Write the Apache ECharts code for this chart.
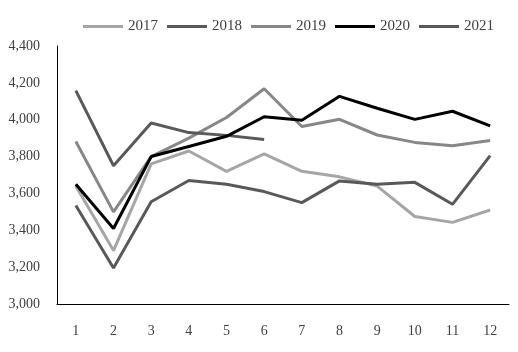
<!DOCTYPE html>
<html>
<head>
<meta charset="utf-8">
<script src="https://cdn.jsdelivr.net/npm/echarts@6/dist/echarts.min.js"></script>
<style>
html,body{margin:0;padding:0;background:#fff}
#main{width:518px;height:352px}
</style>
</head>
<body>
<div id="main"></div>
<script>
// months on the x axis
var months = ['1','2','3','4','5','6','7','8','9','10','11','12'];
var names = ['2017','2018','2019','2020','2021'];
var colors = ['#a6a6a6','#595959','#878787','#000000','#595959'];

var d2017 = [3640,3290,3760,3830,3720,3815,3720,3690,3640,3475,3443,3510];
var d2018 = [3535,3195,3555,3670,3650,3610,3550,3668,3650,3660,3541,3805];
var d2019 = [3882,3500,3800,3900,4012,4168,3963,4002,3917,3877,3859,3887];
var d2020 = [3650,3410,3800,3855,3910,4016,3997,4127,4062,4002,4046,3967];
var d2021 = [4158,3750,3982,3930,3915,3893];
var allData = [d2017,d2018,d2019,d2020,d2021];

var font = 'Liberation Serif';

var series = [];
for (var i = 0; i < names.length; i++) {
    series.push({
        name: names[i],
        type: 'line',
        data: allData[i],
        symbol: 'none',
        z: i == 3 ? 5 : 2,
        lineStyle: {width: 3, color: colors[i]},
        itemStyle: {color: colors[i]}
    });
}

var myChart = echarts.init(document.getElementById('main'));
myChart.setOption({
    animation: false,
    color: colors,
    legend: {
        data: names,
        top: 14,
        left: 78,
        itemWidth: 40,
        itemHeight: 3,
        itemGap: 9,
        icon: 'rect',
        textStyle: {fontFamily: font, fontSize: 15, color: '#404040'}
    },
    grid: {left: 57, right: 9, top: 46, bottom: 48},
    xAxis: {
        type: 'category',
        data: months,
        boundaryGap: true,
        axisLine: {lineStyle: {color: '#000', width: 1}},
        axisTick: {inside: true, length: 4, lineStyle: {color: '#000'}},
        axisLabel: {fontFamily: font, fontSize: 14, color: '#404040', margin: 20}
    },
    yAxis: {
        type: 'value',
        min: 3000,
        max: 4400,
        interval: 200,
        splitLine: {show: false},
        axisLine: {show: true, lineStyle: {color: '#000', width: 1}},
        axisTick: {show: false},
        axisLabel: {
            fontFamily: font, fontSize: 14, color: '#404040', margin: 17,
            formatter: function (v) { return v.toLocaleString('en-US'); }
        }
    },
    series: series
});
</script>
</body>
</html>
